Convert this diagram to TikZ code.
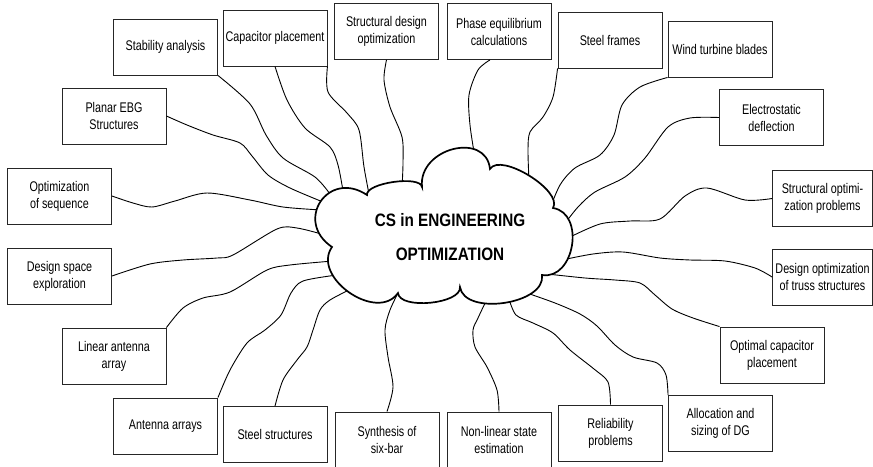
\documentclass[tikz,border=0pt]{standalone}
\usepackage{fontspec}
\setmainfont{Liberation Sans}[FakeStretch=0.77]
\newfontfamily\titlefont{Liberation Sans}[FakeStretch=0.85]

\begin{document}
\begin{tikzpicture}[x=1pt, y=-1pt,
	topic/.style={draw=black!85, line width=0.9pt, minimum width=104pt, minimum height=56pt,
		inner sep=0pt, align=center, font=\fontsize{14}{17}\selectfont},
	link/.style={line width=0.9pt},
	cloudline/.style={draw=black, line width=1.7pt, fill=white}]
		\useasboundingbox (0,0) rectangle (873,466);
		\node[topic] (sa) at (165.5,47) {Stability analysis};
		\node[topic] (cp) at (275,38) {Capacitor placement};
		\node[topic] (sdo) at (386.5,31.5) {Structural design\\optimization};
		\node[topic] (pec) at (499,31.5) {Phase equilibrium\\calculations};
		\node[topic] (sf) at (610,40) {Steel frames};
		\node[topic] (wtb) at (720,49) {Wind turbine blades};
		\node[topic] (ed) at (771.5,117.5) {Electrostatic\\deflection};
		\node[topic, minimum width=100pt] (sop) at (822.5,198.5) {Structural optimi-\\zation problems};
		\node[topic, minimum width=100pt] (dot) at (822.5,277) {Design optimization\\of truss structures};
		\node[topic] (ocp) at (772,355) {Optimal capacitor\\placement};
		\node[topic] (asdg) at (720.5,423.5) {Allocation and\\sizing of DG};
		\node[topic] (rp) at (610.5,433) {Reliability\\problems};
		\node[topic] (nlse) at (499,440) {Non-linear state\\estimation};
		\node[topic] (ssb) at (387,440) {Synthesis of\\six-bar};
		\node[topic] (ss) at (275,434.5) {Steel structures};
		\node[topic] (aa) at (165.5,426) {Antenna arrays};
		\node[topic] (laa) at (114,356) {Linear antenna\\array};
		\node[topic] (dse) at (59.5,276) {Design space\\exploration};
		\node[topic] (oos) at (59.5,196) {Optimization\\of sequence};
		\node[topic] (peb) at (114,116) {Planar EBG\\Structures};
		\coordinate (sa-end) at (330,194);
		\coordinate (cpa-end) at (343,191);
		\coordinate (cpb-end) at (370,199);
		\coordinate (sdo-end) at (402,188);
		\coordinate (pec-end) at (475,158);
		\coordinate (sf-end) at (529,181);
		\coordinate (wtb-end) at (549,211);
		\coordinate (ed-end) at (563,226);
		\coordinate (sop-end) at (568,238);
		\coordinate (dot-end) at (562,260);
		\coordinate (ocp-end) at (538,273);
		\coordinate (asdg-end) at (524,292);
		\coordinate (rp-end) at (509,299);
		\coordinate (nlse-end) at (487,299);
		\coordinate (ssb-end) at (400,289);
		\coordinate (ss-end) at (351,289);
		\coordinate (aa-end) at (337,275);
		\coordinate (laa-end) at (333,261);
		\coordinate (dse-end) at (325,235);
		\coordinate (oos-end) at (321,210);
		\coordinate (peb-end) at (323,202);
		\draw[link] plot[smooth] coordinates {(sa.south east) (250,104) (266,135) (283,158) (315,177) (sa-end)};
		\draw[link] plot[smooth] coordinates {(cp.south) (287,100) (305,128) (330,147) (338,165) (cpa-end)};
		\draw[link] plot[smooth] coordinates {(cp.south east) (328,92) (347,113) (359,130) (364,167) (cpb-end)};
		\draw[link] plot[smooth] coordinates {(sdo.south) (384,80) (390,107) (402,137) (403,163) (sdo-end)};
		\draw[link] plot[smooth] coordinates {([xshift=-9pt]pec.south) (478,70) (469,95) (470,125) (pec-end)};
		\draw[link] plot[smooth] coordinates {(sf.south west) (553,97) (543,117) (530,132) (528,150) (sf-end)};
		\draw[link] plot[smooth] coordinates {(wtb.south west) (640,87) (622,105) (614,135) (600,155) (575,168) (560,185) (wtb-end)};
		\draw[link] plot[smooth] coordinates {(ed.west) (690,118) (668,127) (645,158) (625,177) (595,192) (578,207) (ed-end)};
		\draw[link] plot[smooth] coordinates {(sop.west) (745,200) (707,188) (685,196) (660,219) (630,221) (600,224) (sop-end)};
		\draw[link] plot[smooth] coordinates {(dot.west) (755,268) (725,261) (690,260) (660,258) (623,252) (593,254) (dot-end)};
		\draw[link] plot[smooth] coordinates {(ocp.north west) (693,318) (672,309) (655,295) (640,283) (615,280) (585,278) (ocp-end)};
		\draw[link] plot[smooth] coordinates {(asdg.north west) (666,375) (657,363) (633,357) (615,345) (597,326) (580,314) (555,303) (asdg-end)};
		\draw[link] plot[smooth] coordinates {(rp.north) (608,382) (594,369) (570,350) (553,333) (533,323) (516,315) (rp-end)};
		\draw[link] plot[smooth] coordinates {(nlse.north) (497,390) (487,367) (475,347) (473,330) (478,318) (nlse-end)};
		\draw[link] plot[smooth] coordinates {(ssb.north) (393,387) (388,357) (385,330) (390,310) (ssb-end)};
		\draw[link] plot[smooth] coordinates {(ss.north) (283,380) (297,360) (307,347) (313,330) (320,310) (330,300) (ss-end)};
		\draw[link] plot[smooth] coordinates {(aa.north east) (230,370) (247,343) (265,330) (281,315) (291,293) (303,281) (aa-end)};
		\draw[link] plot[smooth] coordinates {(laa.north east) (183,308) (203,298) (230,292) (267,270) (290,265) (laa-end)};
		\draw[link] plot[smooth] coordinates {(dse.east) (150,264) (183,260) (217,258) (233,255) (277,229) (297,228) (dse-end)};
		\draw[link] plot[smooth] coordinates {(oos.east) (133,203) (152,207) (175,201) (207,193) (250,200) (283,207) (oos-end)};
		\draw[link] plot[smooth] coordinates {(peb.east) (187,125) (213,135) (240,143) (252,156) (268,175) (290,188) (peb-end)};
		\draw[cloudline] (332,247) .. controls (293.4,221) and (328.4,169) .. (367,195)
			.. controls (365.3,183) and (420.3,175) .. (422,187)
			.. controls (418,148) and (486,131) .. (490,169)
			.. controls (500.5,152) and (563.5,191) .. (553,208)
			.. controls (585.6,213.3) and (574.6,280.3) .. (542,275)
			.. controls (546.3,304.2) and (464.3,316.2) .. (460,287)
			.. controls (461.6,304) and (399.6,310) .. (398,293)
			.. controls (377,323) and (311,277) .. cycle;
		\node[font=\titlefont\bfseries\fontsize{18}{34}\selectfont, align=center] (title) at (450,237) {CS in ENGINEERING\\OPTIMIZATION};
	\end{tikzpicture}
\end{document}
